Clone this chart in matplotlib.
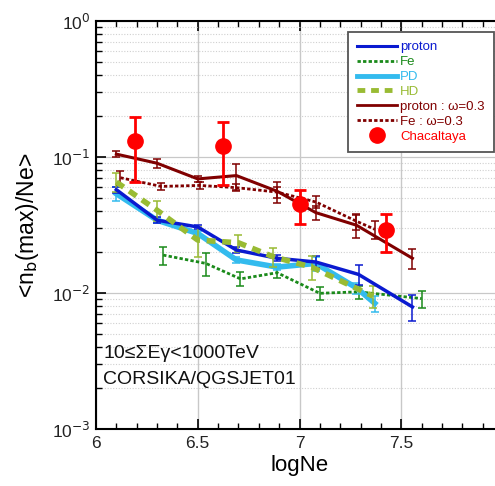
import matplotlib
matplotlib.use("Agg")
import matplotlib.pyplot as plt
from matplotlib.ticker import LogLocator, NullFormatter, MultipleLocator, FixedLocator
from matplotlib.lines import Line2D
import numpy as np

plt.rcParams['font.family'] = ['Liberation Sans', 'DejaVu Sans']

# ---- data ----
p_x = [6.10, 6.30, 6.50, 6.69, 6.89, 7.08, 7.29, 7.555]
p_y = [0.0575, 0.0343, 0.0306, 0.0207, 0.0180, 0.0169, 0.0137, 0.0079]
p_e = [0.0029, 0.0017, 0.0012, 0.0010, 0.0009, 0.0017, 0.0023, 0.0017]

fe_x = [6.33, 6.54, 6.71, 6.89, 7.10, 7.29, 7.60]
fe_y = [0.0190, 0.0165, 0.0127, 0.0141, 0.00995, 0.0102, 0.0091]
fe_e = [0.0028, 0.0031, 0.0015, 0.0012, 0.0011, 0.0011, 0.0013]

pd_x = [6.10, 6.30, 6.50, 6.69, 6.89, 7.08, 7.28, 7.37]
pd_y = [0.0537, 0.0343, 0.0274, 0.0175, 0.0155, 0.0165, 0.0109, 0.0084]
pd_e = [0.0064, 0.0015, 0.0012, 0.0009, 0.0008, 0.0019, 0.0010, 0.0011]

hd_x = [6.10, 6.30, 6.50, 6.70, 6.87, 7.06, 7.36]
hd_y = [0.0654, 0.0406, 0.0245, 0.0234, 0.0185, 0.0155, 0.0095]
hd_e = [0.0105, 0.0069, 0.0061, 0.0033, 0.0030, 0.0031, 0.0018]

pw_x = [6.10, 6.30, 6.50, 6.69, 6.89, 7.08, 7.28, 7.555]
pw_y = [0.105, 0.090, 0.069, 0.073, 0.056, 0.039, 0.0315, 0.018]
pw_e = [0.005, 0.007, 0.004, 0.016, 0.010, 0.0045, 0.006, 0.003]

fw_x = [6.12, 6.32, 6.51, 6.69, 6.89, 7.08, 7.28, 7.37]
fw_y = [0.0704, 0.0608, 0.0618, 0.0595, 0.0552, 0.0467, 0.0337, 0.0294]
fw_e = [0.0085, 0.0035, 0.0040, 0.0035, 0.0050, 0.0048, 0.0045, 0.0045]

ch_x = [6.194, 6.624, 7.002, 7.424]
ch_y = [0.1305, 0.1214, 0.0449, 0.0290]
ch_e = [0.065, 0.059, 0.0125, 0.009]

labels = ['proton', 'Fe', 'PD', 'HD', 'proton : \u03c9=0.3', 'Fe : \u03c9=0.3', 'Chacaltaya']
colors = ['#0a1ad0', '#1a8a1a', '#33bbee', '#99bb33', '#800000', '#800000', '#ff0000']
xtick_vals = [6, 6.5, 7, 7.5, 8]
xtick_labels = ['6', '6.5', '7', '7.5', '']

fig = plt.figure(figsize=(4.95, 4.86), dpi=100)
ax = fig.add_axes([96/495, (486-429)/486, (503-96)/495, (429-21)/486])

ax.set_yscale('log')
ax.set_xlim(6, 8)
ax.set_ylim(1e-3, 1)

# grid
ax.set_axisbelow(True)
ax.yaxis.grid(True, which='major', color='#c8c8c8', lw=0.9, ls='-')
ax.yaxis.grid(True, which='minor', color='#d0d0d0', lw=0.8, ls=(0, (1, 1.5)))
ax.xaxis.set_major_locator(FixedLocator(xtick_vals))
ax.xaxis.set_minor_locator(MultipleLocator(0.1))
ax.xaxis.grid(True, which='major', color='#c8c8c8', lw=1.0, ls='-')

dot = (0, (1.2, 0.8))
dash = (0, (1.6, 1.2))
styles = ['-', dot, '-', dash, '-', dot]
widths = [2.5, 2.0, 4.0, 4.0, 2.2, 2.0]
series = [(p_x, p_y, p_e), (fe_x, fe_y, fe_e), (pd_x, pd_y, pd_e),
          (hd_x, hd_y, hd_e), (pw_x, pw_y, pw_e), (fw_x, fw_y, fw_e)]
zs = [5, 4, 4, 5, 5, 5]
for (xs, ys, es), c, ls, lw, z in zip(series, colors, styles, widths, zs):
    ax.errorbar(xs, ys, yerr=es, color=c, lw=lw, ls=ls, elinewidth=1.1,
                capsize=3, capthick=1.1, zorder=z)
ax.errorbar(ch_x, ch_y, yerr=ch_e, color=colors[6], ls='none', marker='o', ms=11,
            elinewidth=2, capsize=4, capthick=2, zorder=6)

# ticks
ax.set_yticks([1e-3, 1e-2, 1e-1, 1])
ax.set_yticklabels(['10$^{-3}$', '10$^{-2}$', '10$^{-1}$', '10$^{0}$'])
ax.yaxis.set_minor_locator(LogLocator(base=10, subs=np.arange(2, 10), numticks=10))
ax.yaxis.set_minor_formatter(NullFormatter())
ax.set_xticklabels(xtick_labels)
ax.tick_params(axis='both', which='major', direction='in', length=7, width=1.2, labelsize=12.5, top=True, right=False)
ax.tick_params(axis='both', which='minor', direction='in', length=4, width=1.0, top=True, right=False)
ax.tick_params(axis='y', pad=4, labelcolor='#222222')
ax.tick_params(axis='x', pad=5, labelcolor='#222222')

for s in ['left', 'bottom', 'top']:
    ax.spines[s].set_linewidth(1.5)
ax.spines['right'].set_visible(False)

ax.set_xlabel('logNe', fontsize=16, labelpad=3)
ax.set_ylabel('<n$_\\mathrm{b}$(max)/Ne>', fontsize=16.5, labelpad=8)

ax.text(6.035, 0.0036, '10\u2264\u03a3E\u03b3<1000TeV', fontsize=14, va='center', ha='left', color='#111111')
ax.text(6.035, 0.00232, 'CORSIKA/QGSJET01', fontsize=14, va='center', ha='left', color='#111111')

handles = [Line2D([], [], color=c, ls=ls, lw=lw) for c, ls, lw in zip(colors[:6], styles, [2.2, 2.0, 3.5, 3.5, 2.0, 2.0])]
handles.append(Line2D([], [], color=colors[6], ls='none', marker='o', ms=11))
leg = ax.legend(handles, labels, loc='upper left',
                bbox_to_anchor=((348-96)/407, 1 - (32-21)/408), fontsize=9.5,
                frameon=True, fancybox=False, edgecolor='#555555', framealpha=1,
                handlelength=3.0, handletextpad=0.25, labelspacing=0.2, borderpad=0.7,
                borderaxespad=0)
leg.get_frame().set_linewidth(1.3)
for t, c in zip(leg.get_texts(), colors):
    t.set_color(c)

fig.savefig('out.png', dpi=100)
